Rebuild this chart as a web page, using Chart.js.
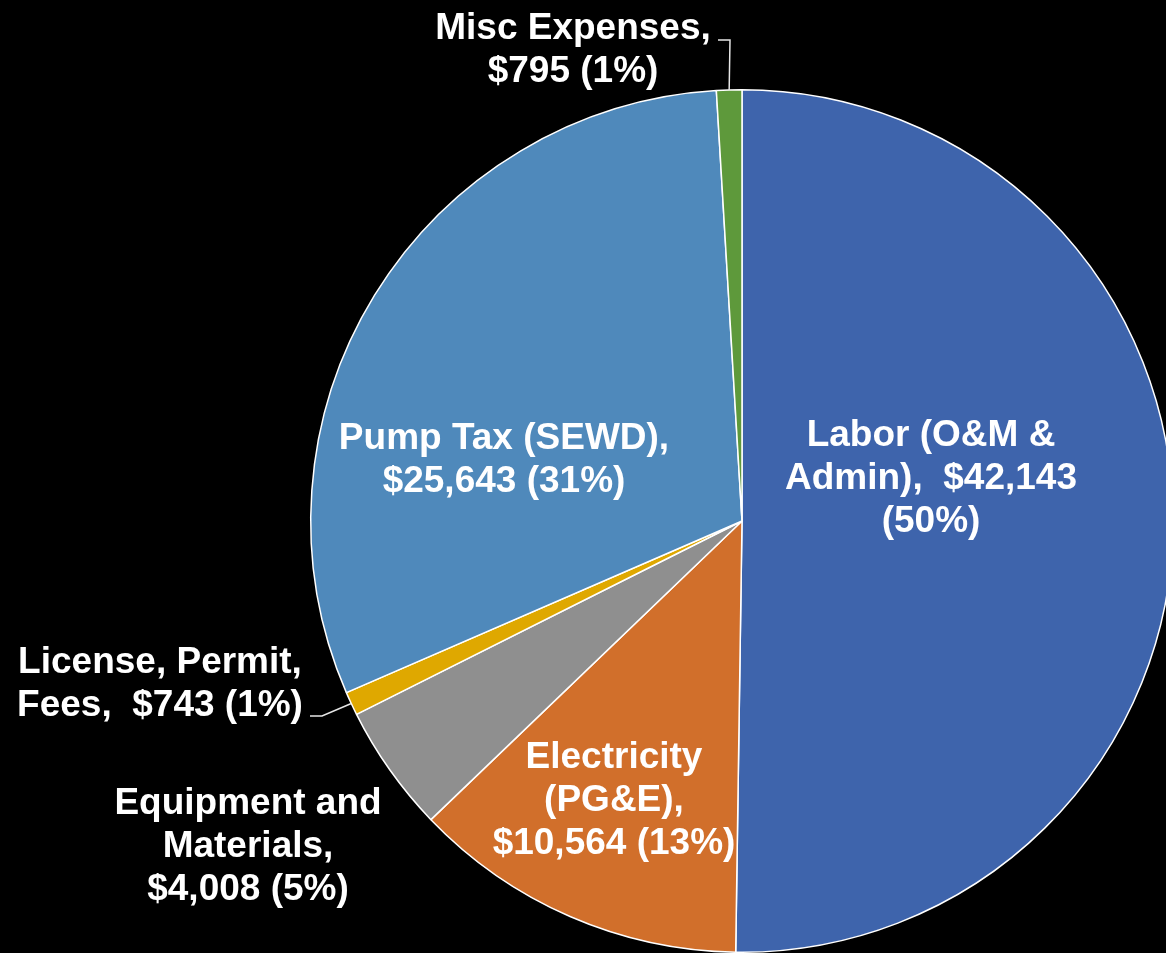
<!DOCTYPE html>
<html>
<head>
<meta charset="utf-8">
<script src="https://cdn.jsdelivr.net/npm/chart.js"></script>
<style>
  html, body { margin: 0; padding: 0; background: #000; overflow: hidden; }
  #wrap { width: 1184px; height: 953px; }
</style>
</head>
<body>
<div id="wrap"><canvas id="costChart" width="1184" height="953"></canvas></div>
<script>
const categories = ['Labor (O&M & Admin)', 'Electricity (PG&E)', 'Equipment and Materials', 'License, Permit, Fees', 'Pump Tax (SEWD)', 'Misc Expenses'];
const costs = [42143, 10564, 4008, 743, 25643, 795];
const percents = [50, 13, 5, 1, 31, 1];
const sliceColors = ['#3E64AC', '#D16F2B', '#8F8F8F', '#DFA800', '#4F89BB', '#5E993B'];

// label text lines per slice
const labelLines = [
  ['Labor (O&M &', 'Admin),  $42,143', '(50%)'],
  ['Electricity', '(PG&E),', '$10,564 (13%)'],
  ['Equipment and', 'Materials,', '$4,008 (5%)'],
  ['License, Permit,', 'Fees,  $743 (1%)'],
  ['Pump Tax (SEWD),', '$25,643 (31%)'],
  ['Misc Expenses,', '$795 (1%)']
];
// label centre of first line, and leader elbow (null = none)
const labelPos = [
  { x: 931, y: 436, leader: null },
  { x: 614, y: 758, leader: null },
  { x: 248, y: 804, leader: null },
  { x: 160, y: 663, leader: { x0: 310, y0: 716, x1: 322, y1: 716 } },
  { x: 504, y: 439, leader: null },
  { x: 573, y: 29, leader: { x0: 718, y0: 40, x1: 730, y1: 40 } }
];

const pieLabels = {
  id: 'pieLabels',
  afterDatasetsDraw(chart) {
    const ctx = chart.ctx;
    const arcs = chart.getDatasetMeta(0).data;
    ctx.save();
    ctx.font = 'bold 37px "Liberation Sans", Arial, sans-serif';
    ctx.fillStyle = '#fff';
    ctx.textAlign = 'center';
    ctx.textBaseline = 'middle';
    labelLines.forEach((lines, i) => {
      const p = labelPos[i];
      lines.forEach((t, j) => ctx.fillText(t, p.x, p.y + j * 43));
      if (p.leader) {
        const a = arcs[i];
        const mid = (a.startAngle + a.endAngle) / 2;
        const ex = a.x + Math.cos(mid) * a.outerRadius;
        const ey = a.y + Math.sin(mid) * a.outerRadius;
        ctx.strokeStyle = '#e6e6e6';
        ctx.lineWidth = 1.5;
        ctx.beginPath();
        ctx.moveTo(p.leader.x0, p.leader.y0);
        ctx.lineTo(p.leader.x1, p.leader.y1);
        ctx.lineTo(ex, ey);
        ctx.stroke();
      }
    });
    ctx.restore();
  }
};

new Chart(document.getElementById('costChart'), {
  type: 'pie',
  data: {
    labels: categories,
    datasets: [{
      data: costs,
      backgroundColor: sliceColors,
      borderColor: '#ffffff',
      borderWidth: 1.5
    }]
  },
  options: {
    responsive: false,
    animation: false,
    layout: { padding: { left: 310, top: 89, right: 10, bottom: 0 } },
    plugins: {
      legend: { display: false },
      tooltip: { enabled: false }
    }
  },
  plugins: [pieLabels]
});
</script>
</body>
</html>
